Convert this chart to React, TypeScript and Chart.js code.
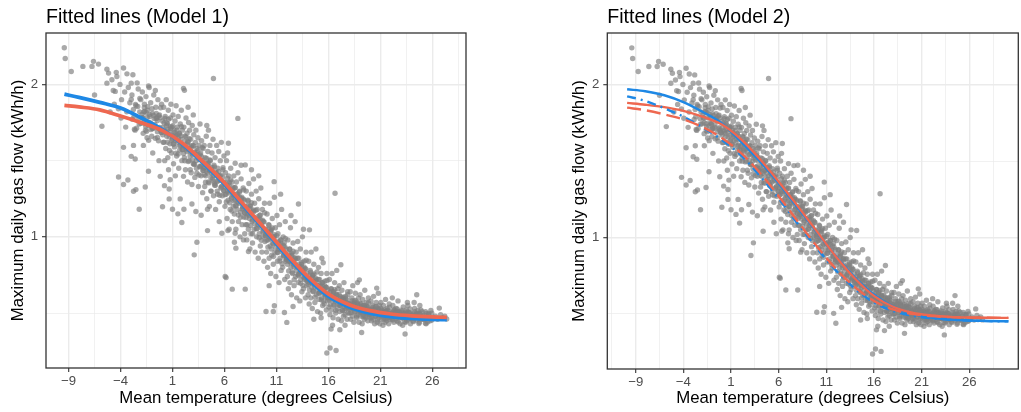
import React, { useEffect, useRef } from 'react';
import { Chart, registerables } from 'chart.js';

Chart.register(...registerables);

const FONT = '"Liberation Sans", Arial, Helvetica, sans-serif';

// Observed days: [mean temperature, maximum daily gas flow] (spread / outlying days)
const observations: [number, number][] = [
  [-9.41, 2.24], [-9.32, 2.17], [-8.74, 2.085], [-7.62, 2.118], [-6.75, 2.118], [-6.6, 2.151], [-6.12, 2.133],
  [-5.31, 2.1], [-5.15, 2.074], [-5.31, 2.008], [-4.83, 2.03], [-6.5, 1.93], [-5.79, 1.725], [-4.51, 1.954],
  [-4.41, 2.079], [-4.35, 2.052], [-3.71, 2.107], [-3.38, 2.069], [-2.81, 2.063], [-2.97, 2.008], [-3.71, 1.587],
  [-2.75, 1.6], [-2.97, 1.528], [-2.59, 1.511], [-4.19, 1.393], [-3.71, 1.343], [-3.29, 1.373], [-2.75, 1.299],
  [-2.52, 1.31], [-2.2, 1.181],
  [-4.6, 1.87], [-4.2, 1.84], [-3.9, 1.9], [-3.6, 1.95], [-3.4, 1.82], [-3.1, 1.88], [-2.9, 1.93], [-2.7, 1.79],
  [-2.5, 1.86], [-2.3, 1.97], [-2.2, 1.74], [-2.05, 1.9], [-3.95, 1.78], [-3.25, 1.98], [-4.7, 1.96], [-2.6, 1.7],
  [-3.5, 1.72], [-2.4, 2.01], [-2.15, 1.82], [-4.05, 2.0], [-5.0, 1.82],
  [-1.9, 1.95], [-1.85, 1.78], [-1.7, 1.87], [-1.6, 1.7], [-1.55, 1.92], [-1.4, 1.83], [-1.3, 1.99], [-1.2, 1.75],
  [-1.1, 1.88], [-1.0, 1.66], [-0.95, 1.81], [-0.8, 1.93], [-0.7, 1.72], [-0.6, 1.85], [-0.5, 1.78], [-0.4, 1.9],
  [-0.35, 1.63], [-0.25, 1.8], [-0.15, 1.7], [-0.05, 1.87], [-1.62, 1.327], [-1.31, 1.43], [-0.18, 1.397],
  [-1.24, 1.98], [-1.8, 1.6], [-0.9, 1.55], [-0.3, 1.5], [-1.45, 1.65], [-0.65, 1.96], [-1.05, 1.74], [-0.45, 1.69],
  [-1.75, 1.82],
  [0.05, 1.76], [0.1, 1.62], [0.15, 1.85], [0.2, 1.7], [0.23, 1.336], [0.3, 1.79], [0.35, 1.58], [0.4, 1.9],
  [0.45, 1.66], [0.5, 1.74], [0.55, 1.52], [0.6, 1.83], [0.68, 1.314], [0.68, 1.249], [0.7, 1.69], [0.75, 1.61],
  [0.78, 1.375], [0.8, 1.78], [0.85, 1.87], [0.9, 1.55], [0.95, 1.72], [1.0, 1.64], [1.0, 1.181], [1.05, 1.8],
  [1.1, 1.48], [1.15, 1.7], [1.2, 1.59], [1.25, 1.76], [1.3, 1.66], [1.35, 1.86], [1.4, 1.53], [1.45, 1.72],
  [1.5, 1.62], [1.52, 1.151], [1.55, 1.79], [1.6, 1.45], [1.65, 1.68], [1.7, 1.57], [1.74, 1.249], [1.75, 1.74],
  [1.8, 1.64], [1.85, 1.83], [1.9, 1.094], [1.9, 1.5], [1.95, 1.7], [0.04, 1.198], [0.62, 1.44], [1.28, 1.4],
  [0.25, 1.5],
  [2.0, 1.6], [2.06, 1.397], [2.06, 1.974], [2.1, 1.181], [2.15, 1.961], [2.1, 1.72], [2.15, 1.52], [2.2, 1.66],
  [2.25, 1.44], [2.3, 1.78], [2.35, 1.58], [2.4, 1.68], [2.45, 1.36], [2.5, 1.62], [2.55, 1.75], [2.6, 1.5],
  [2.65, 1.7], [2.7, 1.56], [2.75, 1.64], [2.8, 1.42], [2.87, 1.343], [2.87, 1.216], [2.9, 1.73], [2.95, 1.6],
  [3.0, 1.48], [3.05, 1.67], [3.09, 0.882], [3.1, 1.55], [3.15, 1.39], [3.2, 1.62], [3.25, 1.166], [3.25, 1.7],
  [3.3, 1.45], [3.35, 0.965], [3.35, 1.58], [3.4, 1.52], [3.45, 1.65], [3.5, 1.33], [3.55, 1.6], [3.6, 1.46],
  [3.65, 1.74], [3.7, 1.55], [3.76, 1.142], [3.75, 1.4], [3.8, 1.63], [3.85, 1.5], [3.9, 1.29], [3.95, 1.58],
  [2.5, 1.85], [3.0, 1.8],
  [4.0, 1.45], [4.05, 1.6], [4.1, 1.33], [4.15, 1.52], [4.2, 1.4], [4.25, 1.66], [4.3, 1.25], [4.35, 1.48],
  [4.4, 1.56], [4.45, 1.36], [4.5, 1.44], [4.55, 1.2], [4.6, 1.6], [4.65, 1.5], [4.7, 1.3], [4.75, 1.42],
  [4.8, 1.55], [4.85, 1.38], [4.9, 1.64], [4.95, 1.27], [5.0, 1.47], [5.05, 1.35], [5.1, 1.52], [5.15, 1.18],
  [5.2, 1.42], [5.25, 1.6], [5.3, 1.3], [5.35, 1.45], [5.4, 1.37], [5.45, 1.56], [5.5, 1.23], [5.55, 1.4],
  [5.6, 1.5], [5.65, 1.32], [5.7, 1.62], [5.8, 1.27], [5.85, 1.44], [5.9, 1.36], [5.95, 1.53], [4.3, 1.73],
  [5.5, 1.1], [4.37, 1.041], [4.37, 1.181], [4.46, 1.7], [4.94, 2.039], [5.75, 1.024],
  [6.07, 0.74], [6.16, 0.733], [6.33, 1.041], [6.38, 1.614], [6.75, 0.657], [6.96, 0.965], [7.03, 1.024],
  [7.1, 0.926], [7.29, 1.777], [7.83, 0.98], [8.0, 0.657], [7.03, 1.483],
  [6.0, 1.35], [6.05, 1.2], [6.1, 1.42], [6.15, 1.28], [6.2, 1.5], [6.25, 1.12], [6.3, 1.33], [6.35, 1.24],
  [6.4, 1.4], [6.45, 1.05], [6.5, 1.3], [6.55, 1.18], [6.6, 1.45], [6.65, 1.25], [6.7, 1.36], [6.75, 1.1],
  [6.8, 1.28], [6.85, 1.2], [6.9, 1.4], [6.95, 1.15], [7.0, 1.32], [7.05, 1.24], [7.1, 1.05], [7.15, 1.36],
  [7.2, 1.18], [7.25, 1.28], [7.3, 1.42], [7.35, 1.1], [7.4, 1.22], [7.45, 1.3], [7.5, 1.0], [7.55, 1.16],
  [7.6, 1.38], [7.65, 1.25], [7.7, 1.08], [7.75, 1.2], [7.8, 1.32], [7.85, 1.13], [7.9, 1.24], [7.95, 1.02],
  [6.3, 1.55], [7.6, 1.47],
  [8.31, 0.904], [8.0, 1.472],
  [8.0, 1.2], [8.05, 1.08], [8.1, 1.3], [8.15, 0.98], [8.2, 1.15], [8.25, 1.24], [8.3, 1.05], [8.35, 1.35],
  [8.4, 1.12], [8.45, 0.92], [8.5, 1.2], [8.55, 1.02], [8.6, 1.28], [8.65, 1.1], [8.7, 0.96], [8.75, 1.17],
  [8.8, 1.38], [8.85, 1.05], [8.9, 1.22], [8.95, 0.9], [9.0, 1.12], [9.05, 1.3], [9.1, 1.0], [9.15, 1.18],
  [9.2, 1.08], [9.25, 0.86], [9.3, 1.25], [9.35, 1.02], [9.4, 1.14], [9.45, 0.94], [9.5, 1.32], [9.55, 1.06],
  [9.6, 0.9], [9.65, 1.18], [9.7, 1.0], [9.75, 1.1], [9.8, 0.84], [9.85, 1.22], [9.9, 0.97], [9.95, 1.05],
  [8.6, 1.44], [9.3, 1.4],
  [10.0, 0.511], [10.7, 0.511], [10.8, 0.548], [11.77, 0.504], [12.0, 0.439], [10.78, 1.362],
  [10.0, 1.02], [10.05, 0.9], [10.1, 1.15], [10.15, 0.8], [10.2, 0.98], [10.25, 1.08], [10.3, 0.86], [10.35, 1.22],
  [10.4, 0.94], [10.45, 0.76], [10.5, 1.04], [10.55, 0.88], [10.6, 1.12], [10.65, 0.96], [10.7, 0.82], [10.75, 1.0],
  [10.8, 1.26], [10.85, 0.9], [10.9, 1.06], [10.95, 0.74], [11.0, 0.96], [11.05, 1.14], [11.1, 0.84], [11.15, 1.02],
  [11.2, 0.92], [11.25, 0.7], [11.3, 1.08], [11.35, 0.86], [11.4, 0.98], [11.45, 0.78], [11.5, 1.18], [11.55, 0.9],
  [11.6, 0.8], [11.65, 1.0], [11.7, 0.88], [11.75, 0.96], [11.8, 0.72], [11.85, 1.1], [11.9, 0.84], [11.95, 0.92],
  [10.3, 0.68], [11.4, 1.28],
  [12.6, 0.543], [13.12, 1.216],
  [12.0, 0.86], [12.05, 0.74], [12.1, 0.98], [12.15, 0.66], [12.2, 0.84], [12.25, 0.92], [12.3, 0.7], [12.35, 1.06],
  [12.4, 0.8], [12.45, 0.62], [12.5, 0.88], [12.55, 0.76], [12.6, 0.96], [12.65, 0.82], [12.7, 0.68], [12.75, 0.86],
  [12.8, 1.1], [12.85, 0.74], [12.9, 0.9], [12.95, 0.6], [13.0, 0.8], [13.05, 0.97], [13.1, 0.7], [13.15, 0.86],
  [13.2, 0.76], [13.25, 0.58], [13.3, 0.92], [13.35, 0.72], [13.4, 0.82], [13.45, 0.64], [13.5, 1.0], [13.55, 0.74],
  [13.6, 0.66], [13.65, 0.84], [13.7, 0.72], [13.75, 0.79], [13.8, 0.6], [13.85, 0.9], [13.9, 0.68], [13.95, 0.76],
  [12.4, 1.14], [13.6, 1.05],
  [14.18, 1.046], [15.37, 0.86], [15.85, 0.238], [16.16, 0.271],
  [14.0, 0.72], [14.05, 0.62], [14.1, 0.84], [14.15, 0.56], [14.2, 0.7], [14.25, 0.78], [14.3, 0.6], [14.35, 0.9],
  [14.4, 0.67], [14.45, 0.53], [14.5, 0.75], [14.55, 0.64], [14.6, 0.82], [14.65, 0.69], [14.7, 0.57], [14.75, 0.73],
  [14.8, 0.92], [14.85, 0.62], [14.9, 0.77], [14.95, 0.51], [15.0, 0.68], [15.05, 0.8], [15.1, 0.59], [15.15, 0.72],
  [15.2, 0.64], [15.25, 0.5], [15.3, 0.76], [15.35, 0.6], [15.4, 0.7], [15.45, 0.55], [15.5, 0.83], [15.55, 0.63],
  [15.6, 0.56], [15.65, 0.71], [15.7, 0.61], [15.75, 0.67], [15.8, 0.52], [15.85, 0.76], [15.9, 0.58], [15.95, 0.65],
  [14.6, 0.46], [15.3, 0.47],
  [16.26, 0.396], [16.74, 0.255], [16.64, 1.286], [17.1, 0.391], [17.2, 0.817],
  [16.0, 0.62], [16.05, 0.54], [16.1, 0.72], [16.15, 0.49], [16.2, 0.6], [16.25, 0.66], [16.3, 0.52], [16.35, 0.76],
  [16.4, 0.58], [16.45, 0.47], [16.5, 0.64], [16.55, 0.55], [16.6, 0.7], [16.65, 0.59], [16.7, 0.5], [16.75, 0.62],
  [16.8, 0.78], [16.85, 0.53], [16.9, 0.66], [16.95, 0.46], [17.0, 0.58], [17.05, 0.68], [17.1, 0.51], [17.15, 0.61],
  [17.2, 0.55], [17.25, 0.45], [17.3, 0.65], [17.35, 0.52], [17.4, 0.6], [17.45, 0.48], [17.5, 0.7], [17.55, 0.54],
  [17.6, 0.49], [17.65, 0.61], [17.7, 0.53], [17.75, 0.57], [17.8, 0.46], [17.85, 0.64], [17.9, 0.5], [17.95, 0.56],
  [16.4, 0.42], [17.6, 0.42],
  [18.98, 0.718], [19.2, 0.373],
  [18.0, 0.56], [18.05, 0.5], [18.1, 0.64], [18.15, 0.46], [18.2, 0.55], [18.25, 0.6], [18.3, 0.48], [18.35, 0.68],
  [18.4, 0.53], [18.45, 0.44], [18.5, 0.58], [18.55, 0.51], [18.6, 0.63], [18.65, 0.54], [18.7, 0.47], [18.75, 0.57],
  [18.8, 0.7], [18.85, 0.49], [18.9, 0.6], [18.95, 0.44], [19.0, 0.53], [19.05, 0.62], [19.1, 0.48], [19.15, 0.56],
  [19.2, 0.51], [19.25, 0.43], [19.3, 0.59], [19.35, 0.49], [19.4, 0.55], [19.45, 0.46], [19.5, 0.65], [19.55, 0.5],
  [19.6, 0.47], [19.65, 0.57], [19.7, 0.5], [19.75, 0.54], [19.8, 0.45], [19.85, 0.6], [19.9, 0.48], [19.95, 0.52],
  [20.65, 0.664],
  [20.0, 0.52], [20.05, 0.47], [20.1, 0.58], [20.15, 0.45], [20.2, 0.51], [20.25, 0.55], [20.3, 0.46], [20.35, 0.61],
  [20.4, 0.5], [20.45, 0.43], [20.5, 0.54], [20.55, 0.48], [20.6, 0.57], [20.7, 0.44], [20.75, 0.53], [20.8, 0.63],
  [20.85, 0.47], [20.9, 0.55], [20.95, 0.43], [21.0, 0.5], [21.05, 0.57], [21.1, 0.46], [21.15, 0.52], [21.2, 0.49],
  [21.25, 0.42], [21.3, 0.55], [21.35, 0.47], [21.4, 0.51], [21.45, 0.44], [21.5, 0.59], [21.55, 0.48], [21.6, 0.45],
  [21.65, 0.53], [21.7, 0.47], [21.75, 0.5], [21.8, 0.43], [21.85, 0.56], [21.9, 0.46], [21.95, 0.49],
  [23.38, 0.363],
  [22.0, 0.5], [22.1, 0.46], [22.2, 0.55], [22.3, 0.44], [22.4, 0.49], [22.5, 0.53], [22.6, 0.45], [22.7, 0.58],
  [22.8, 0.48], [22.9, 0.43], [23.0, 0.51], [23.1, 0.47], [23.2, 0.54], [23.3, 0.49], [23.45, 0.44], [23.5, 0.52],
  [23.6, 0.57], [23.7, 0.46], [23.8, 0.5], [23.9, 0.43], [22.15, 0.6], [22.65, 0.51], [23.15, 0.42], [23.65, 0.55],
  [22.35, 0.52], [23.85, 0.48],
  [24.5, 0.62], [26.67, 0.533], [27.38, 0.461],
  [24.0, 0.49], [24.15, 0.45], [24.3, 0.53], [24.45, 0.47], [24.6, 0.5], [24.75, 0.44], [24.9, 0.52], [25.05, 0.48],
  [25.2, 0.46], [25.35, 0.51], [25.5, 0.47], [25.65, 0.49], [25.8, 0.45], [25.95, 0.5], [26.1, 0.47], [26.3, 0.48],
  [26.5, 0.46], [26.8, 0.49], [27.0, 0.47], [27.2, 0.48], [24.25, 0.57], [24.8, 0.55], [25.4, 0.43],
];

// Observed days in the dense core of the cloud
const observationsCore: [number, number][] = [
  [-2.97, 1.901], [-2.87, 1.771], [-2.76, 1.836], [-2.66, 1.706], [-2.56, 1.869],
  [-2.45, 1.712], [-2.34, 1.855], [-2.24, 1.777], [-2.14, 1.907], [-2.04, 1.744],
  [-1.92, 1.783], [-1.82, 1.679], [-1.71, 1.848], [-1.61, 1.744], [-1.53, 1.816],
  [-1.49, 1.692], [-1.39, 1.854], [-1.29, 1.633], [-1.19, 1.789], [-1.09, 1.744],
  [-0.97, 1.841], [-0.87, 1.711], [-0.76, 1.776], [-0.66, 1.646], [-0.56, 1.809],
  [-0.45, 1.652], [-0.34, 1.795], [-0.24, 1.717], [-0.14, 1.847], [-0.04, 1.685],
  [0.08, 1.717], [0.18, 1.621], [0.29, 1.777], [0.39, 1.681], [0.47, 1.747],
  [0.51, 1.621], [0.61, 1.771], [0.71, 1.567], [0.81, 1.711], [0.91, 1.669],
  [1.03, 1.729], [1.13, 1.609], [1.24, 1.669], [1.34, 1.549], [1.44, 1.699],
  [1.55, 1.543], [1.66, 1.675], [1.76, 1.603], [1.86, 1.723], [1.96, 1.573],
  [2.08, 1.595], [2.18, 1.499], [2.29, 1.655], [2.39, 1.559], [2.47, 1.625],
  [2.51, 1.494], [2.61, 1.644], [2.71, 1.44], [2.81, 1.584], [2.91, 1.542],
  [3.03, 1.597], [3.13, 1.477], [3.24, 1.537], [3.34, 1.417], [3.44, 1.567],
  [3.55, 1.406], [3.66, 1.538], [3.76, 1.466], [3.86, 1.586], [3.96, 1.436],
  [4.08, 1.455], [4.18, 1.359], [4.29, 1.515], [4.39, 1.419], [4.47, 1.485],
  [4.51, 1.354], [4.61, 1.504], [4.71, 1.3], [4.81, 1.444], [4.91, 1.402],
  [5.03, 1.459], [5.13, 1.339], [5.24, 1.399], [5.34, 1.279], [5.44, 1.429],
  [5.55, 1.273], [5.66, 1.405], [5.76, 1.333], [5.86, 1.453], [5.96, 1.303],
  [6.08, 1.325], [6.18, 1.229], [6.29, 1.385], [6.39, 1.289], [6.47, 1.355],
  [6.51, 1.224], [6.61, 1.374], [6.71, 1.17], [6.81, 1.314], [6.91, 1.272],
  [7.03, 1.324], [7.13, 1.204], [7.24, 1.264], [7.34, 1.144], [7.44, 1.294],
  [7.55, 1.128], [7.66, 1.26], [7.76, 1.188], [7.86, 1.308], [7.96, 1.158],
  [8.08, 1.175], [8.18, 1.079], [8.29, 1.235], [8.39, 1.139], [8.47, 1.205],
  [8.51, 1.074], [8.61, 1.224], [8.71, 1.02], [8.81, 1.164], [8.91, 1.122],
  [9.03, 1.174], [9.13, 1.054], [9.24, 1.114], [9.34, 0.994], [9.44, 1.144],
  [9.55, 0.978], [9.66, 1.11], [9.76, 1.038], [9.86, 1.158], [9.96, 1.008],
  [10.08, 1.021], [10.18, 0.933], [10.29, 1.076], [10.39, 0.988], [10.47, 1.049],
  [10.51, 0.92], [10.61, 1.058], [10.71, 0.871], [10.81, 1.003], [10.91, 0.965],
  [11.03, 1.007], [11.13, 0.897], [11.24, 0.952], [11.34, 0.842], [11.44, 0.98],
  [11.55, 0.824], [11.66, 0.945], [11.76, 0.879], [11.86, 0.989], [11.96, 0.852],
  [12.08, 0.864], [12.18, 0.776], [12.29, 0.919], [12.39, 0.831], [12.47, 0.892],
  [12.51, 0.768], [12.61, 0.906], [12.71, 0.719], [12.81, 0.851], [12.91, 0.813],
  [13.03, 0.86], [13.13, 0.75], [13.24, 0.805], [13.34, 0.695], [13.44, 0.833],
  [13.55, 0.682], [13.66, 0.803], [13.76, 0.737], [13.86, 0.847], [13.96, 0.71],
  [14.08, 0.724], [14.18, 0.652], [14.29, 0.769], [14.39, 0.697], [14.47, 0.747],
  [14.51, 0.645], [14.61, 0.757], [14.71, 0.604], [14.81, 0.712], [14.91, 0.681],
  [15.03, 0.721], [15.13, 0.631], [15.24, 0.676], [15.34, 0.586], [15.44, 0.699],
  [15.55, 0.579], [15.66, 0.678], [15.76, 0.624], [15.86, 0.714], [15.96, 0.601],
  [16.08, 0.618], [16.18, 0.554], [16.29, 0.658], [16.39, 0.594], [16.47, 0.638],
  [16.51, 0.554], [16.61, 0.654], [16.71, 0.518], [16.81, 0.614], [16.91, 0.586],
  [17.03, 0.622], [17.13, 0.552], [17.24, 0.587], [17.34, 0.517], [17.44, 0.605],
  [17.55, 0.516], [17.66, 0.593], [17.76, 0.551], [17.86, 0.621], [17.96, 0.534],
  [18.08, 0.551], [18.18, 0.503], [18.29, 0.581], [18.39, 0.533], [18.47, 0.566],
  [18.51, 0.508], [18.61, 0.583], [18.71, 0.481], [18.81, 0.553], [18.91, 0.532],
  [19.03, 0.567], [19.13, 0.507], [19.24, 0.537], [19.34, 0.477], [19.44, 0.552],
  [19.55, 0.479], [19.66, 0.545], [19.76, 0.509], [19.86, 0.569], [19.96, 0.494],
  [20.08, 0.513], [20.18, 0.473], [20.29, 0.538], [20.39, 0.498], [20.47, 0.526],
  [20.51, 0.481], [20.61, 0.543], [20.71, 0.458], [20.81, 0.518], [20.91, 0.501],
  [21.03, 0.533], [21.13, 0.483], [21.24, 0.508], [21.34, 0.458], [21.44, 0.521],
  [21.55, 0.463], [21.66, 0.518], [21.76, 0.488], [21.86, 0.538], [21.96, 0.476],
  [22.08, 0.494], [22.18, 0.454], [22.29, 0.519], [22.39, 0.479], [22.47, 0.507],
  [22.51, 0.465], [22.61, 0.527], [22.71, 0.442], [22.81, 0.502], [22.91, 0.485],
  [23.03, 0.519], [23.13, 0.469], [23.24, 0.494], [23.34, 0.444], [23.44, 0.507],
  [23.55, 0.452], [23.66, 0.507], [23.76, 0.477], [23.86, 0.527], [23.96, 0.465],
  [24.08, 0.484], [24.18, 0.444], [24.29, 0.509], [24.39, 0.469], [24.47, 0.497],
  [24.51, 0.455], [24.61, 0.517], [24.71, 0.432], [24.81, 0.492], [24.91, 0.475],
  [25.03, 0.509], [25.13, 0.459], [25.24, 0.484], [25.34, 0.434], [25.44, 0.497],
  [25.55, 0.442], [25.66, 0.497], [25.76, 0.467], [25.86, 0.517], [25.96, 0.455],
];

// Observed days lying closest to the centre of the cloud
const observationsCentre: [number, number][] = [
  [-1.94, 1.803], [-1.81, 1.75], [-1.69, 1.822], [-1.57, 1.724],
  [-1.44, 1.783], [-1.31, 1.73], [-1.19, 1.802], [-1.07, 1.704],
  [-0.94, 1.711], [-0.81, 1.796], [-0.69, 1.737], [-0.57, 1.776],
  [-0.44, 1.763], [-0.31, 1.71], [-0.19, 1.782], [-0.07, 1.685],
  [0.06, 1.669], [0.19, 1.747], [0.31, 1.693], [0.43, 1.729],
  [0.56, 1.705], [0.69, 1.657], [0.81, 1.723], [0.93, 1.633],
  [1.06, 1.609], [1.19, 1.687], [1.31, 1.633], [1.43, 1.669],
  [1.56, 1.645], [1.69, 1.597], [1.81, 1.663], [1.93, 1.573],
  [2.06, 1.547], [2.19, 1.625], [2.31, 1.571], [2.43, 1.607],
  [2.56, 1.578], [2.69, 1.53], [2.81, 1.596], [2.93, 1.506],
  [3.06, 1.477], [3.19, 1.555], [3.31, 1.501], [3.43, 1.537],
  [3.56, 1.508], [3.69, 1.46], [3.81, 1.526], [3.93, 1.436],
  [4.06, 1.407], [4.19, 1.485], [4.31, 1.431], [4.43, 1.467],
  [4.56, 1.438], [4.69, 1.39], [4.81, 1.456], [4.93, 1.366],
  [5.06, 1.339], [5.19, 1.417], [5.31, 1.363], [5.43, 1.399],
  [5.56, 1.375], [5.69, 1.327], [5.81, 1.393], [5.93, 1.303],
  [6.06, 1.277], [6.19, 1.355], [6.31, 1.301], [6.43, 1.337],
  [6.56, 1.308], [6.69, 1.26], [6.81, 1.326], [6.93, 1.236],
  [7.06, 1.204], [7.19, 1.282], [7.31, 1.228], [7.43, 1.264],
  [7.56, 1.23], [7.69, 1.182], [7.81, 1.248], [7.93, 1.158],
  [8.06, 1.127], [8.19, 1.205], [8.31, 1.151], [8.43, 1.187],
  [8.56, 1.158], [8.69, 1.11], [8.81, 1.176], [8.93, 1.086],
  [9.06, 1.054], [9.19, 1.132], [9.31, 1.078], [9.43, 1.114],
  [9.56, 1.08], [9.69, 1.032], [9.81, 1.098], [9.93, 1.008],
  [10.06, 0.977], [10.19, 1.049], [10.31, 0.999], [10.43, 1.032],
  [10.56, 0.998], [10.69, 0.954], [10.81, 1.014], [10.93, 0.932],
  [11.06, 0.897], [11.19, 0.969], [11.31, 0.919], [11.43, 0.952],
  [11.56, 0.918], [11.69, 0.874], [11.81, 0.934], [11.93, 0.852],
  [12.06, 0.82], [12.19, 0.892], [12.31, 0.842], [12.43, 0.875],
  [12.56, 0.846], [12.69, 0.802], [12.81, 0.862], [12.93, 0.78],
  [13.06, 0.75], [13.19, 0.822], [13.31, 0.772], [13.43, 0.805],
  [13.56, 0.776], [13.69, 0.732], [13.81, 0.792], [13.93, 0.71],
  [14.06, 0.688], [14.19, 0.747], [14.31, 0.706], [14.43, 0.733],
  [14.56, 0.708], [14.69, 0.672], [14.81, 0.721], [14.93, 0.654],
  [15.06, 0.631], [15.19, 0.69], [15.31, 0.649], [15.43, 0.676],
  [15.56, 0.656], [15.69, 0.62], [15.81, 0.669], [15.93, 0.602],
  [16.06, 0.586], [16.19, 0.638], [16.31, 0.602], [16.43, 0.626],
  [16.56, 0.61], [16.69, 0.578], [16.81, 0.622], [16.93, 0.562],
  [17.06, 0.552], [17.19, 0.598], [17.31, 0.566], [17.43, 0.587],
  [17.56, 0.576], [17.69, 0.548], [17.81, 0.586], [17.93, 0.534],
  [18.06, 0.527], [18.19, 0.566], [18.31, 0.539], [18.43, 0.557],
  [18.56, 0.55], [18.69, 0.526], [18.81, 0.559], [18.93, 0.514],
  [19.06, 0.507], [19.19, 0.546], [19.31, 0.519], [19.43, 0.537],
  [19.56, 0.53], [19.69, 0.506], [19.81, 0.539], [19.93, 0.494],
  [20.06, 0.493], [20.19, 0.526], [20.31, 0.503], [20.43, 0.518],
  [20.56, 0.516], [20.69, 0.496], [20.81, 0.523], [20.93, 0.486],
  [21.06, 0.483], [21.19, 0.516], [21.31, 0.493], [21.43, 0.508],
  [21.56, 0.506], [21.69, 0.486], [21.81, 0.513], [21.93, 0.476],
  [22.06, 0.474], [22.19, 0.507], [22.31, 0.484], [22.43, 0.499],
  [22.56, 0.5], [22.69, 0.48], [22.81, 0.507], [22.93, 0.47],
  [23.06, 0.469], [23.19, 0.502], [23.31, 0.479], [23.43, 0.494],
  [23.56, 0.495], [23.69, 0.475], [23.81, 0.502], [23.93, 0.465],
  [24.06, 0.464], [24.19, 0.497], [24.31, 0.474], [24.43, 0.489],
  [24.56, 0.49], [24.69, 0.47], [24.81, 0.497], [24.93, 0.46],
];

// Axis breaks
const xMajorTicks = [-9, -4, 1, 6, 11, 16, 21, 26];
const xMinorTicks = [-11.5, -6.5, -1.5, 3.5, 8.5, 13.5, 18.5, 23.5, 28.5];
const yMajorTicks = [1, 2];
const yMinorTicks = [0.5, 1.5];

// Model 1 fitted lines
const model1Temps = [-9.4, -8, -6, -4, -2, 0, 2, 4, 6, 8, 10, 12, 14, 16, 18, 20, 22, 24, 26, 27.4];
const model1Blue = [1.936, 1.915, 1.882, 1.845, 1.78, 1.705, 1.605, 1.48, 1.345, 1.19, 1.035, 0.875, 0.728, 0.61, 0.54, 0.5, 0.477, 0.465, 0.459, 0.457];
const model1Red = [1.862, 1.852, 1.833, 1.792, 1.748, 1.698, 1.612, 1.49, 1.355, 1.2, 1.045, 0.888, 0.742, 0.625, 0.555, 0.516, 0.494, 0.482, 0.475, 0.472];

// Model 2 fitted lines
const model2Temps = [-9.9, -8, -6, -4, -2, 0, 2, 4, 6, 8, 10, 12, 14, 16, 18, 20, 22, 24, 26, 28, 30.1];
const model2BlueSolid = [1.969, 1.956, 1.93, 1.885, 1.822, 1.748, 1.63, 1.5, 1.355, 1.195, 1.035, 0.878, 0.738, 0.625, 0.548, 0.502, 0.477, 0.464, 0.457, 0.454, 0.452];
const model2RedSolid = [1.88, 1.868, 1.852, 1.828, 1.79, 1.74, 1.645, 1.515, 1.365, 1.205, 1.04, 0.876, 0.732, 0.618, 0.547, 0.508, 0.49, 0.481, 0.477, 0.475, 0.474];
const model2BlueDashed = [1.923, 1.893, 1.845, 1.79, 1.72, 1.64, 1.54, 1.405, 1.255, 1.09, 0.93, 0.785, 0.665, 0.575, 0.52, 0.489, 0.472, 0.462, 0.456, 0.453, 0.452];
const model2RedDashed = [1.849, 1.832, 1.805, 1.772, 1.722, 1.652, 1.555, 1.425, 1.27, 1.105, 0.942, 0.795, 0.675, 0.585, 0.53, 0.5, 0.486, 0.479, 0.476, 0.475, 0.474];

const BLUE = 'rgb(30,136,229)';
const RED = 'rgb(238,104,80)';

type Curve = { temps: number[]; values: number[]; color: string; width: number; dash?: number[] };

type PanelProps = {
  title: string;
  left: number;
  width: number;
  xMin: number;
  xMax: number;
  areaLeft: number;
  areaRight: number;
  areaTop: number;
  areaBottom: number;
  curves: Curve[];
};

const Y_AXIS_W = 46;
const TICK_SIZE = 13.2;
const AXIS_TITLE_SIZE = 16.8;
const TITLE_SIZE = 19.6;

function Panel(props: PanelProps) {
  const ref = useRef<HTMLCanvasElement | null>(null);
  useEffect(() => {
    const canvas = ref.current;
    if (!canvas) return;
    const { title, width, xMin, xMax, areaLeft, areaRight, areaTop, areaBottom, curves } = props;
    const decor = {
      id: 'panelDecor',
      afterDatasetsDraw(chart: any) {
        const { ctx, chartArea } = chart;
        ctx.save();
        ctx.strokeStyle = '#333333';
        ctx.lineWidth = 1.3;
        ctx.strokeRect(chartArea.left, chartArea.top, chartArea.right - chartArea.left, chartArea.bottom - chartArea.top);
        ctx.restore();
      },
      afterDraw(chart: any) {
        const { ctx, chartArea } = chart;
        ctx.save();
        ctx.fillStyle = '#000000';
        ctx.font = `${TITLE_SIZE}px ${FONT}`;
        ctx.textAlign = 'left';
        ctx.textBaseline = 'alphabetic';
        ctx.fillText(title, chartArea.left, 22.8);
        ctx.restore();
      },
    };
    const curveSets = curves.map((c) => ({
      type: 'line' as const,
      data: c.temps.map((t, i) => ({ x: t, y: c.values[i] })),
      borderColor: c.color,
      borderWidth: c.width,
      borderDash: c.dash || [],
      pointRadius: 0,
      fill: false,
      cubicInterpolationMode: 'monotone' as const,
      showLine: true,
    }));
    const isMajorX = (v: number) => xMajorTicks.includes(v);
    const isMajorY = (v: number) => yMajorTicks.includes(v);
    const allObs = [...observations, ...observationsCore, ...observationsCentre];
    const chart = new Chart(canvas, {
      type: 'scatter',
      data: {
        datasets: [
          ...curveSets,
          {
            type: 'scatter' as const,
            data: allObs.map(([x, y]) => ({ x, y })),
            backgroundColor: 'rgba(128,128,128,0.68)',
            borderWidth: 0,
            pointRadius: 2.7,
            pointHoverRadius: 2.7,
          },
        ],
      } as any,
      options: {
        animation: false,
        responsive: false,
        devicePixelRatio: 1,
        events: [],
        layout: {
          padding: { left: areaLeft - Y_AXIS_W, right: width - areaRight, top: areaTop, bottom: 0 },
        },
        plugins: { legend: { display: false }, tooltip: { enabled: false }, title: { display: false } },
        scales: {
          x: {
            type: 'linear',
            min: xMin,
            max: xMax,
            afterBuildTicks: (s: any) => {
              s.ticks = [...xMinorTicks, ...xMajorTicks]
                .filter((v) => v >= xMin && v <= xMax)
                .sort((a, b) => a - b)
                .map((v) => ({ value: v }));
            },
            afterFit: (s: any) => {
              s.height = 412 - areaBottom;
            },
            border: { display: false },
            grid: {
              color: '#EBEBEB',
              lineWidth: (ctx: any) => (ctx.tick && isMajorX(ctx.tick.value) ? 1.4 : 0.7),
              tickLength: 4,
              tickWidth: 1.1,
              tickColor: (ctx: any) => (ctx.tick && isMajorX(ctx.tick.value) ? '#333333' : 'rgba(0,0,0,0)'),
            },
            ticks: {
              autoSkip: false,
              maxRotation: 0,
              padding: 1,
              color: '#4D4D4D',
              font: { family: FONT, size: TICK_SIZE },
              callback: (v: any) => {
                const n = Number(v);
                if (!isMajorX(n)) return '';
                return n < 0 ? '\u2212' + Math.abs(n) : String(n);
              },
            },
            title: {
              display: true,
              text: 'Mean temperature (degrees Celsius)',
              color: '#000000',
              font: { family: FONT, size: AXIS_TITLE_SIZE },
              padding: { top: 0, bottom: 4 },
            },
          },
          y: {
            type: 'linear',
            min: 0.14,
            max: 2.337,
            afterBuildTicks: (s: any) => {
              s.ticks = [...yMinorTicks, ...yMajorTicks].sort((a, b) => a - b).map((v) => ({ value: v }));
            },
            afterFit: (s: any) => {
              s.width = Y_AXIS_W;
            },
            border: { display: false },
            grid: {
              color: '#EBEBEB',
              lineWidth: (ctx: any) => (ctx.tick && isMajorY(ctx.tick.value) ? 1.4 : 0.7),
              tickLength: 4,
              tickWidth: 1.1,
              tickColor: (ctx: any) => (ctx.tick && isMajorY(ctx.tick.value) ? '#333333' : 'rgba(0,0,0,0)'),
            },
            ticks: {
              autoSkip: false,
              padding: 4,
              color: '#4D4D4D',
              font: { family: FONT, size: TICK_SIZE },
              callback: (v: any) => (isMajorY(Number(v)) ? String(v) : ''),
            },
            title: {
              display: true,
              text: 'Maximum daily gas flow (kWh/h)',
              color: '#000000',
              font: { family: FONT, size: AXIS_TITLE_SIZE },
              padding: { top: 8, bottom: 0 },
            },
          },
        },
      } as any,
      plugins: [decor],
    });
    return () => chart.destroy();
  }, []);
  return (
    <canvas
      ref={ref}
      width={props.width}
      height={412}
      style={{ position: 'absolute', left: props.left, top: 0, width: props.width, height: 412 }}
    />
  );
}

export default function App() {
  return (
    <div style={{ position: 'absolute', left: 0, top: 0, width: 1021, height: 412, background: '#ffffff', overflow: 'hidden' }}>
      <Panel
        title="Fitted lines (Model 1)"
        left={0}
        width={540}
        xMin={-11.17}
        xMax={29.24}
        areaLeft={46}
        areaRight={466}
        areaTop={33}
        areaBottom={368}
        curves={[
          { temps: model1Temps, values: model1Red, color: RED, width: 3.7 },
          { temps: model1Temps, values: model1Blue, color: BLUE, width: 3.7 },
        ]}
      />
      <Panel
        title="Fitted lines (Model 2)"
        left={540}
        width={481}
        xMin={-11.98}
        xMax={31.14}
        areaLeft={67.3}
        areaRight={478.3}
        areaTop={33}
        areaBottom={369}
        curves={[
          { temps: model2Temps, values: model2RedDashed, color: RED, width: 2.4, dash: [14, 6] },
          { temps: model2Temps, values: model2BlueDashed, color: BLUE, width: 2.4, dash: [9, 5, 2, 5] },
          { temps: model2Temps, values: model2RedSolid, color: RED, width: 2.4 },
          { temps: model2Temps, values: model2BlueSolid, color: BLUE, width: 2.4 },
        ]}
      />
    </div>
  );
}
